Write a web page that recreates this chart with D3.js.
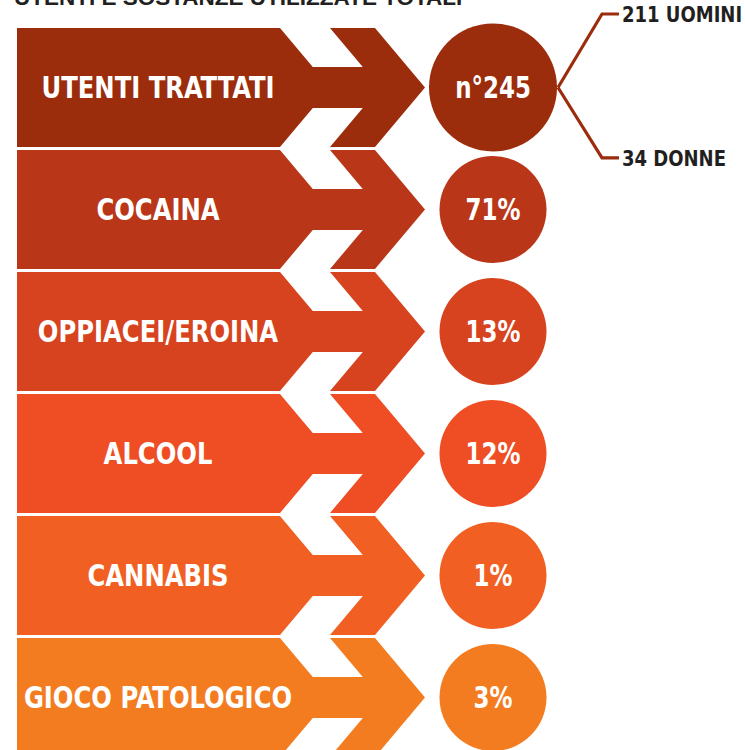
<!DOCTYPE html>
<html>
<head>
<meta charset="utf-8">
<script src="https://cdnjs.cloudflare.com/ajax/libs/d3/7.8.5/d3.min.js"></script>
<style>
  body { margin: 0; background: #fff; }
  svg { display: block; }
</style>
</head>
<body>
<div id="chart"></div>
<script>
// data
var title = 'UTENTI E SOSTANZE UTILIZZATE TOTALI';
var categories = ['UTENTI TRATTATI', 'COCAINA', 'OPPIACEI/EROINA', 'ALCOOL', 'CANNABIS', 'GIOCO PATOLOGICO'];
var values = ['n°245', '71%', '13%', '12%', '1%', '3%'];
var genderCounts = [211, 34];
var genderLabels = ['UOMINI', 'DONNE'];

var colors = ['#9b2c0c', '#b93718', '#d8431f', '#ef4d24', '#f16022', '#f47c20'];

var width = 745, height = 750;
var labelFont = '"DejaVu Sans Condensed", "DejaVu Sans", sans-serif';

var svg = d3.select('#chart').append('svg')
    .attr('width', width)
    .attr('height', height);

// rows
var y = d3.scaleBand()
    .domain(categories)
    .range([28, 28 + 6 * 122 - 3])
    .paddingInner(0.025)
    .paddingOuter(0);

var h = y.bandwidth();

// horizontal positions of the arrow pieces
var x = {
    left: 17,
    notch: 280,     // where the white cut starts on the top edge
    chevron: 330,   // where the outer chevron starts on the top edge
    chevronEnd: 375,
    tip: 425,
    circle: 493
};
var slope = (x.tip - x.chevronEnd) / (h / 2);   // dx per dy of the diagonals
var notchDepth = 39;

function arrowPath(top) {
    var bottom = top + h, mid = top + h / 2;
    var d = notchDepth * slope;
    var pts = [
        [x.left, top],
        [x.notch, top],
        [x.notch + d, top + notchDepth],
        [x.chevron + d, top + notchDepth],
        [x.chevron, top],
        [x.chevronEnd, top],
        [x.tip, mid],
        [x.chevronEnd, bottom],
        [x.chevron, bottom],
        [x.chevron + d, bottom - notchDepth],
        [x.notch + d, bottom - notchDepth],
        [x.notch, bottom],
        [x.left, bottom]
    ];
    return d3.line()(pts) + 'Z';
}

var rows = svg.selectAll('g.row')
    .data(categories)
    .enter().append('g')
    .attr('class', 'row');

rows.append('path')
    .attr('d', function(c) { return arrowPath(y(c)); })
    .attr('fill', function(c, i) { return colors[i]; });

// squeeze the condensed face a bit more to get close to the original typeface
rows.append('g')
    .attr('transform', function(c) { return 'translate(158,' + (y(c) + h / 2) + ') scale(0.9,1)'; })
  .append('text')
    .attr('dy', '0.36em')
    .attr('text-anchor', 'middle')
    .attr('fill', '#fff')
    .style('font-family', labelFont)
    .style('font-weight', 'bold')
    .style('font-size', '30px')
    .text(function(c) { return c; });

rows.append('circle')
    .attr('cx', x.circle)
    .attr('cy', function(c) { return y(c) + h / 2; })
    .attr('r', function(c, i) { return i === 0 ? 64 : 53.5; })
    .attr('fill', function(c, i) { return colors[i]; });

rows.append('g')
    .attr('transform', function(c) { return 'translate(' + x.circle + ',' + (y(c) + h / 2) + ') scale(0.85,1)'; })
  .append('text')
    .attr('dy', '0.36em')
    .attr('text-anchor', 'middle')
    .attr('fill', '#fff')
    .style('font-family', labelFont)
    .style('font-weight', 'bold')
    .style('font-size', '30px')
    .text(function(c, i) { return values[i]; });

// bracket splitting the total into men / women
var first = categories[0];
var cy0 = y(first) + h / 2;
var bx0 = x.circle + 65;
var bEnds = [y(first) - 14, y(first) + h + 11];

var bracket = svg.append('g');
bEnds.forEach(function(by, i) {
    bracket.append('path')
        .attr('d', d3.line()([[bx0, cy0], [bx0 + 44, by], [bx0 + 61, by]]))
        .attr('fill', 'none')
        .attr('stroke', colors[0])
        .attr('stroke-width', 3.2);
    bracket.append('g')
        .attr('transform', 'translate(' + (bx0 + 64) + ',' + by + ') scale(0.91,1)')
      .append('text')
        .attr('dy', '0.36em')
        .attr('fill', '#231f20')
        .style('font-family', labelFont)
        .style('font-weight', 'bold')
        .style('font-size', '22px')
        .text(genderCounts[i] + ' ' + genderLabels[i]);
});

// title, cut by the top edge
svg.append('text')
    .attr('x', 14)
    .attr('y', 4.5)
    .attr('fill', '#231f20')
    .style('font-family', '"Liberation Sans", Arial, sans-serif')
    .style('font-weight', 'bold')
    .style('font-size', '22.5px')
    .text(title);
</script>
</body>
</html>
